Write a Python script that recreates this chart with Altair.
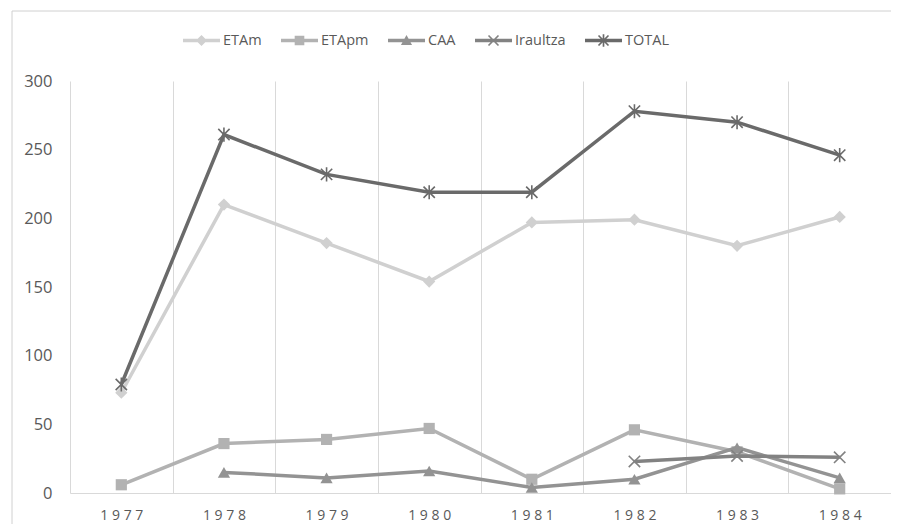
import altair as alt
import pandas as pd

years = ["1977", "1978", "1979", "1980", "1981", "1982", "1983", "1984"]
series = ["ETAm", "ETApm", "CAA", "Iraultza", "TOTAL"]
etam = [73, 210, 182, 154, 197, 199, 180, 201]
etapm = [6, 36, 39, 47, 10, 46, 30, 3]
caa = [None, 15, 11, 16, 4, 10, 33, 11]
iraultza = [None, None, None, None, None, 23, 27, 26]
total = [79, 261, 232, 219, 219, 278, 270, 246]
values = [etam, etapm, caa, iraultza, total]

colors = ["#d0d0d0", "#b2b2b2", "#939393", "#828282", "#6a6a6a"]
FONT = "Open Sans"

rows = []
for s, vals in zip(series, values):
    for y, v in zip(years, vals):
        if v is not None:
            rows.append({"series": s, "year": y, "value": v})
df = pd.DataFrame(rows)


def poly(pts):
    area = 0.0
    for i in range(len(pts)):
        x1, y1 = pts[i]
        x2, y2 = pts[(i + 1) % len(pts)]
        area += x1 * y2 - x2 * y1
    if area < 0:
        pts = pts[::-1]
    return "M" + "L".join(f"{x:.3f},{y:.3f}" for x, y in pts) + "Z"


def seg(x1, y1, x2, y2, h):
    dx, dy = x2 - x1, y2 - y1
    ln = (dx * dx + dy * dy) ** 0.5
    px, py = -dy / ln * h, dx / ln * h
    return poly([(x1 + px, y1 + py), (x2 + px, y2 + py), (x2 - px, y2 - py), (x1 - px, y1 - py)])


line_seg = poly([(-1, -0.095), (1, -0.095), (1, 0.095), (-1, 0.095)])
a = 0.27
h = 0.045
xshape = seg(-a, -a, a, a, h) + seg(-a, a, a, -a, h)
legend_paths = [
    line_seg + poly([(-0.3, 0), (0, -0.3), (0.3, 0), (0, 0.3)]),
    line_seg + poly([(-0.26, -0.26), (0.26, -0.26), (0.26, 0.26), (-0.26, 0.26)]),
    line_seg + poly([(0, -0.3), (0.3, 0.24), (-0.3, 0.24)]),
    line_seg + xshape,
    line_seg + xshape + seg(0, -0.34, 0, 0.34, h),
]

plot_shapes = [
    ("diamond", True, 150),
    ("square", True, 125),
    ("triangle-up", True, 150),
    ("M-1,-1L1,1M-1,1L1,-1", False, 130),
    ("M-0.8,-0.8L0.8,0.8M-0.8,0.8L0.8,-0.8M0,-1L0,1", False, 200),
]

x_enc = alt.X(
    "year:O",
    sort=years,
    scale=alt.Scale(type="band", paddingInner=0, paddingOuter=0),
    axis=alt.Axis(
        title=None,
        tickBand="extent",
        grid=True,
        gridColor="#d9d9d9",
        gridWidth=1,
        ticks=False,
        domainColor="#d9d9d9",
        domainWidth=1,
        labelAngle=0,
        labelFont=FONT,
        labelFontSize=14,
        labelColor="#595959",
        labelPadding=15,
        labelExpr="join(split(datum.label, ''), ' ')",
    ),
)
y_enc = alt.Y(
    "value:Q",
    scale=alt.Scale(domain=[0, 300], nice=False),
    axis=alt.Axis(
        title=None,
        values=[0, 50, 100, 150, 200, 250, 300],
        grid=False,
        domain=False,
        ticks=False,
        labelFont=FONT,
        labelFontSize=16.5,
        labelColor="#595959",
        labelPadding=18,
    ),
)

layers = []
for s, col, (shp, filled, size) in zip(series, colors, plot_shapes):
    base = alt.Chart(df).transform_filter(alt.datum.series == s)
    layers.append(
        base.mark_line(strokeWidth=3.5, color=col).encode(x=x_enc, y=y_enc)
    )
    if filled:
        pt = base.mark_point(filled=True, opacity=1, color=col, size=size, shape=shp, strokeWidth=0)
    else:
        pt = base.mark_point(filled=False, opacity=1, color=col, size=size, shape=shp, strokeWidth=1.6)
    layers.append(pt.encode(x=x_enc, y=y_enc))

leg = alt.Legend(
    title=None,
    orient="none",
    direction="horizontal",
    legendX=113,
    legendY=-59,
    symbolSize=1369,
    symbolStrokeWidth=0,
    symbolOpacity=1,
    labelFont=FONT,
    labelFontSize=14.5,
    labelColor="#595959",
    labelOffset=3,
    columnPadding=19,
    padding=0,
)
legend_layer = (
    alt.Chart(df)
    .transform_filter("false")
    .mark_point(filled=True, opacity=1)
    .encode(
        x=x_enc,
        y=y_enc,
        color=alt.Color("series:N", scale=alt.Scale(domain=series, range=colors), legend=leg),
        shape=alt.Shape("series:N", scale=alt.Scale(domain=series, range=legend_paths), legend=leg),
    )
)
layers.append(legend_layer)

one = pd.DataFrame({"k": [0]})
border_top = alt.Chart(one).mark_rule(color="#d0d0d0", strokeWidth=1).encode(
    x=alt.value(-58), x2=alt.value(830), y=alt.value(-70)
)
border_left = alt.Chart(one).mark_rule(color="#d0d0d0", strokeWidth=1).encode(
    x=alt.value(-58), y=alt.value(-70), y2=alt.value(460)
)

chart = (
    alt.layer(border_top, border_left, *layers)
    .properties(
        width=821,
        height=412,
        autosize=alt.AutoSizeParams(type="none"),
        padding={"left": 62, "top": 73, "right": 0, "bottom": 31},
        background="white",
    )
    .configure_view(stroke=None)
)

chart.save("out.html", embed_options={"renderer": "svg", "actions": False})
